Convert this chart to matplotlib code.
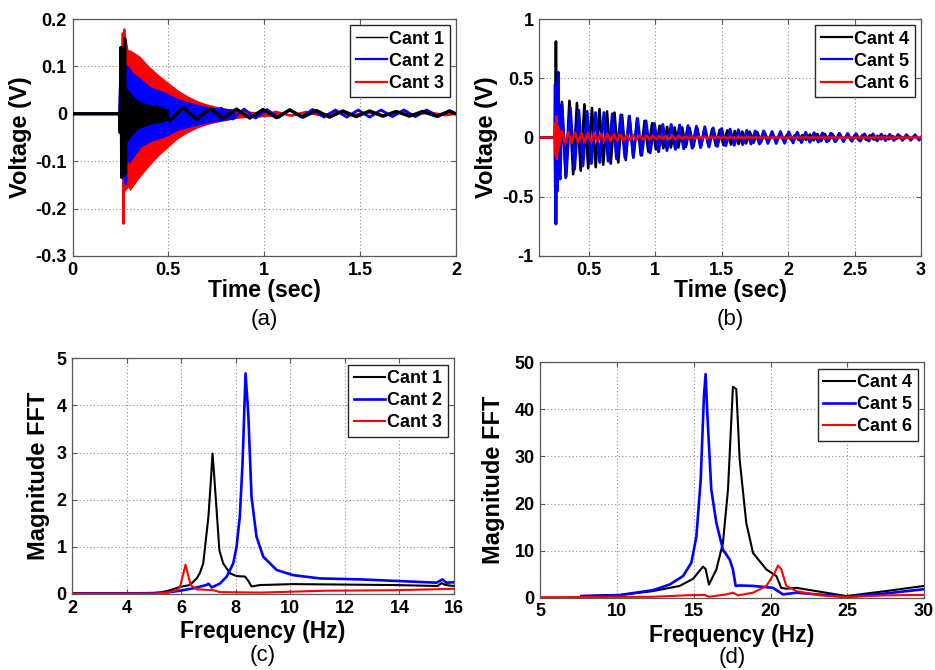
import numpy as np
import matplotlib
matplotlib.use("Agg")
import matplotlib.pyplot as plt

plt.rcParams['font.family'] = ['Liberation Sans', 'DejaVu Sans']

# ======================= DATA =======================
# ---- (a) time response, Cant 1-3 ----
a_labels = ["Cant 1", "Cant 2", "Cant 3"]
a_xticks = [0, 0.5, 1, 1.5, 2]
a_xticklabels = ["0", "0.5", "1", "1.5", "2"]
a_yticks = [-0.3, -0.2, -0.1, 0, 0.1, 0.2]
a_yticklabels = ["-0.3", "-0.2", "-0.1", "0", "0.1", "0.2"]

# Cant 1 (black): lead-in + impact spikes
c1_spike_t = [0.0, 0.245, 0.249, 0.253, 0.257, 0.262, 0.267, 0.272, 0.276, 0.280, 0.285, 0.290, 0.295]
c1_spike_v = [0.0, 0.0, -0.04, 0.14, -0.134, 0.11, -0.06, 0.158, -0.127, 0.05, -0.056, 0.045, -0.05]
# dense band (envelope)
c1_band_t = [0.29, 0.30, 0.34, 0.38, 0.41, 0.46, 0.50]
c1_band_hi = [0.05, 0.045, 0.028, 0.022, 0.018, 0.014, 0.010]
c1_band_lo = [-0.056, -0.05, -0.032, -0.026, -0.021, -0.018, -0.012]
# slow wave peaks (alternating), start time and half-period
c1_wave_t0, c1_wave_hp = 0.30, 0.0694
c1_wave = [0.02, -0.02, 0.016, -0.015, 0.013, -0.012, 0.011, -0.010, 0.010, -0.009,
           0.009, -0.008, 0.008, -0.007, 0.007, -0.007, 0.006, -0.006, 0.006, -0.005,
           0.005, -0.005, 0.005, -0.005, 0.005]

# Cant 2 (blue)
c2_spike_t = [0.0, 0.245, 0.250, 0.255, 0.260, 0.266, 0.272, 0.278, 0.285, 0.295]
c2_spike_v = [0.0, 0.0, 0.07, -0.03, 0.06, -0.08, 0.09, -0.148, 0.10, -0.10]
c2_band_t = [0.25, 0.295, 0.313, 0.357, 0.41, 0.48, 0.55, 0.64, 0.72, 0.81, 0.85]
c2_band_hi = [0.07, 0.10, 0.088, 0.074, 0.056, 0.046, 0.032, 0.021, 0.014, 0.011, 0.010]
c2_band_lo = [-0.05, -0.106, -0.095, -0.07, -0.058, -0.049, -0.035, -0.025, -0.018, -0.013, -0.010]
c2_wave_t0, c2_wave_hp = 0.30, 0.0595
c2_wave = [0.02, -0.02, 0.018, -0.018, 0.016, -0.015, 0.014, -0.013, 0.012, -0.011,
           0.010, -0.009, 0.009, -0.008, 0.009, -0.007, 0.009, -0.007, 0.008, -0.007,
           0.008, -0.007, 0.008, -0.006, 0.008, -0.006, 0.008, -0.006, 0.007]

# Cant 3 (red)
c3_spike_t = [0.0, 0.245, 0.252, 0.258, 0.262, 0.266, 0.270, 0.275]
c3_spike_v = [0.0, 0.0, 0.05, -0.04, 0.17, -0.232, 0.178, -0.15]
c3_band_t = [0.245, 0.26, 0.27, 0.29, 0.30, 0.35, 0.40, 0.45, 0.50, 0.55, 0.60,
             0.65, 0.70, 0.75, 0.80, 0.85, 0.90, 1.00, 1.10]
c3_band_hi = [0.0, 0.12, 0.178, 0.135, 0.135, 0.122, 0.100, 0.082, 0.066, 0.050, 0.038,
              0.028, 0.021, 0.016, 0.012, 0.008, 0.006, 0.004, 0.003]
c3_band_lo = [0.0, -0.12, -0.165, -0.155, -0.162, -0.134, -0.110, -0.088, -0.070, -0.052, -0.040,
              -0.030, -0.023, -0.018, -0.014, -0.010, -0.008, -0.006, -0.004]
c3_wave_t0, c3_wave_hp = 0.90, 0.08
c3_wave = [0.005, -0.005, 0.004, -0.004, 0.004, -0.004, 0.004, -0.003, 0.003, -0.003,
           0.003, -0.003, 0.003, -0.003]

# ---- (b) time response, Cant 4-6 ----
b_labels = ["Cant 4", "Cant 5", "Cant 6"]
b_xticks = [0.5, 1, 1.5, 2, 2.5, 3]
b_xticklabels = ["0.5", "1", "1.5", "2", "2.5", "3"]
b_yticks = [-1, -0.5, 0, 0.5, 1]
b_yticklabels = ["-1", "-0.5", "0", "0.5", "1"]

c4_imp_t = [0.13, 0.246, 0.250, 0.255, 0.259, 0.264, 0.270, 0.277, 0.285]
c4_imp_v = [0.0, 0.0, -0.42, 0.81, -0.05, 0.30, -0.25, 0.28, -0.30]
c4_t0, c4_hp = 0.30, 0.02825
c4_pos = [0.30, 0.31, 0.29, 0.28, 0.25, 0.24, 0.22, 0.21, 0.19, 0.18, 0.16, 0.14,
          0.12, 0.10, 0.09, 0.085, 0.085, 0.08, 0.08, 0.075, 0.07, 0.065, 0.06, 0.055,
          0.05, 0.05, 0.045, 0.04, 0.035, 0.03, 0.025, 0.02, 0.02, 0.025, 0.03, 0.03,
          0.03, 0.028, 0.025, 0.022, 0.02, 0.018, 0.015, 0.015, 0.012, 0.012, 0.01, 0.01]
c4_neg = [-0.34, -0.31, -0.28, -0.26, -0.25, -0.23, -0.22, -0.21, -0.19, -0.17, -0.15, -0.12,
          -0.10, -0.09, -0.085, -0.085, -0.08, -0.08, -0.075, -0.07, -0.07, -0.065, -0.06, -0.055,
          -0.05, -0.045, -0.04, -0.035, -0.03, -0.025, -0.02, -0.02, -0.02, -0.025, -0.03, -0.03,
          -0.03, -0.028, -0.025, -0.022, -0.02, -0.018, -0.015, -0.015, -0.012, -0.012, -0.01, -0.01]

c5_imp_t = [0.13, 0.246, 0.250, 0.255, 0.261, 0.267, 0.273, 0.279, 0.287]
c5_imp_v = [0.0, 0.0, 0.45, -0.73, 0.30, -0.45, 0.55, -0.30, -0.35]
c5_t0, c5_hp = 0.30, 0.0316
c5_pos = [0.28, 0.25, 0.23, 0.22, 0.21, 0.21, 0.20, 0.19, 0.18, 0.16, 0.14, 0.12,
          0.11, 0.11, 0.105, 0.10, 0.095, 0.09, 0.08, 0.075, 0.07, 0.065, 0.06, 0.055,
          0.055, 0.05, 0.05, 0.048, 0.045, 0.043, 0.04, 0.038, 0.036, 0.035, 0.034, 0.032,
          0.03, 0.03, 0.028, 0.026, 0.025, 0.024, 0.023]
c5_neg = [-0.33, -0.27, -0.24, -0.22, -0.21, -0.20, -0.18, -0.17, -0.16, -0.15, -0.13, -0.12,
          -0.11, -0.10, -0.095, -0.09, -0.085, -0.08, -0.075, -0.07, -0.065, -0.06, -0.055, -0.055,
          -0.05, -0.05, -0.048, -0.045, -0.043, -0.04, -0.038, -0.036, -0.035, -0.034, -0.032, -0.03,
          -0.03, -0.028, -0.026, -0.025, -0.024, -0.023, -0.022]

c6_imp_t = [0.13, 0.245, 0.250, 0.254, 0.258, 0.262, 0.266, 0.270, 0.274, 0.278, 0.282, 0.286, 0.290]
c6_imp_v = [0.0, 0.0, 0.12, -0.15, 0.18, -0.18, 0.10, -0.12, 0.08, -0.08, 0.06, -0.05, 0.04]
c6_t0, c6_hp = 0.30, 0.0244
c6_pos = [0.05, 0.045, 0.042, 0.04, 0.038, 0.035, 0.032, 0.03, 0.027, 0.025, 0.022, 0.02,
          0.018, 0.016, 0.015, 0.014, 0.013, 0.012, 0.011, 0.01, 0.009, 0.008, 0.008, 0.007,
          0.006, 0.006, 0.005]
c6_neg = [-0.05, -0.045, -0.042, -0.04, -0.038, -0.035, -0.032, -0.03, -0.027, -0.025, -0.022, -0.02,
          -0.018, -0.016, -0.015, -0.014, -0.013, -0.012, -0.011, -0.01, -0.009, -0.008, -0.008, -0.007,
          -0.006, -0.006, -0.005]
c6_tail_t = [1.62, 3.0]
c6_tail_v = [0.0, 0.0]

# ---- (c) FFT, Cant 1-3 ----
c_xticks = [2, 4, 6, 8, 10, 12, 14, 16]
c_yticks = [0, 1, 2, 3, 4, 5]
f1 = [2, 3, 4, 5, 5.22, 5.59, 5.96, 6.32, 6.57, 6.69, 6.81, 7.0, 7.1, 7.15, 7.2, 7.3, 7.4,
      7.54, 7.79, 8.03, 8.34, 8.46, 8.58, 8.89, 10.1, 12, 13.8, 15.4, 15.54, 15.7, 16]
m1 = [0.02, 0.02, 0.02, 0.02, 0.03, 0.08, 0.15, 0.19, 0.33, 0.45, 0.65, 1.64, 2.5, 2.98, 2.6,
      1.78, 0.93, 0.65, 0.44, 0.38, 0.37, 0.28, 0.16, 0.19, 0.21, 0.20, 0.19, 0.17, 0.23, 0.19, 0.17]
f2 = [2, 3, 4, 5, 5.59, 5.96, 6.44, 6.93, 7.0, 7.12, 7.42, 7.67, 7.91, 8.03, 8.15, 8.25, 8.36,
      8.46, 8.58, 8.76, 9.01, 9.5, 10.1, 11.1, 12.55, 13.77, 15.36, 15.58, 15.72, 16]
m2 = [0.01, 0.01, 0.01, 0.02, 0.04, 0.07, 0.12, 0.19, 0.22, 0.14, 0.22, 0.37, 0.65, 1.0, 1.64,
      2.77, 4.68, 3.83, 2.06, 1.22, 0.79, 0.51, 0.40, 0.33, 0.31, 0.28, 0.24, 0.31, 0.24, 0.25]
f3 = [2, 3, 4, 5, 5.5, 5.83, 5.96, 6.16, 6.35, 6.57, 7.18, 7.42, 8.89, 11.33, 13.77, 16]
m3 = [0.01, 0.01, 0.01, 0.01, 0.03, 0.08, 0.15, 0.62, 0.19, 0.10, 0.08, 0.04, 0.03, 0.07, 0.08, 0.11]

# ---- (d) FFT, Cant 4-6 ----
d_xticks = [5, 10, 15, 20, 25, 30]
d_yticks = [0, 10, 20, 30, 40, 50]
f4 = [7.67, 10.17, 12.34, 14.08, 14.95, 15.6, 15.77, 15.99, 16.47, 16.9, 17.23, 17.55, 17.77,
      17.99, 18.42, 18.86, 19.73, 20.38, 20.7, 21.03, 21.68, 24.94, 27.5, 30]
m4 = [0.35, 0.56, 1.4, 2.5, 4.0, 6.6, 6.1, 2.8, 6.0, 11.6, 23, 44.8, 44.3, 29.3, 15.9, 9.5,
      6.0, 4.6, 2.1, 1.9, 2.1, 0.35, 1.4, 2.5]
f5 = [7.67, 10.17, 12.34, 13.43, 14.3, 14.84, 15.17, 15.45, 15.66, 15.77, 15.88, 16.14, 16.47,
      16.9, 17.34, 17.55, 17.73, 17.99, 18.86, 20.16, 20.81, 21.68, 24.94, 27.5, 30]
m5 = [0.35, 0.56, 1.6, 2.8, 4.6, 7.4, 13, 25, 42.7, 47.5, 39.2, 23, 15.9, 10.2, 8.1, 6.0, 2.5,
      2.6, 2.5, 2.1, 0.7, 1.06, 0.2, 0.9, 1.8]
f6 = [5, 12.34, 14.5, 15.7, 16.0, 17.12, 17.55, 17.88, 18.86, 19.73, 20.27, 20.49, 20.7, 21.03,
      21.68, 23.2, 24.94, 27.5, 30]
m6 = [0.1, 0.2, 0.5, 0.6, 0.2, 0.7, 1.06, 0.5, 1.06, 2.5, 5.3, 6.85, 6.0, 2.5, 1.4, 0.5, 0.14,
      0.5, 0.6]

# ======================= HELPERS =======================
def wave(t0, hp, peaks):
    t = t0 + hp * np.arange(len(peaks))
    return t, np.asarray(peaks, float)

def interleave(pos, neg):
    out = np.empty(len(pos) + len(neg))
    out[0::2] = pos
    out[1::2] = neg
    return out

BLACK, BLUE, RED = '#000000', '#0000ff', '#ff0000'
W, H = 935, 670

def style(ax):
    ax.grid(True, color='0.55', linestyle=(0, (1, 2.2)), linewidth=0.8)
    ax.set_axisbelow(True)
    for s in ax.spines.values():
        s.set_color('0.35')
        s.set_linewidth(0.9)
    ax.tick_params(direction='in', length=3.5, width=0.8, color='0.35',
                   top=True, right=True, labelsize=13, pad=4)
    for lab in ax.get_xticklabels() + ax.get_yticklabels():
        lab.set_fontweight('bold')

def legend(ax):
    leg = ax.legend(loc='upper right', prop={'weight': 'bold', 'size': 13},
                    handlelength=1.75, handletextpad=0.12, labelspacing=0.28,
                    borderpad=0.3, borderaxespad=0.35, fancybox=False,
                    framealpha=1, edgecolor='0.15')
    leg.get_frame().set_linewidth(1.0)

def px_axes(fig, left, top, right, bottom):
    return fig.add_axes([left / W, 1 - bottom / H, (right - left) / W, (bottom - top) / H])

fig = plt.figure(figsize=(W / 100, H / 100), dpi=100)

# ---------------- (a) ----------------
ax = px_axes(fig, 72.5, 19, 456, 256)
ax.fill_between(c3_band_t, c3_band_lo, c3_band_hi, color=RED, lw=0, zorder=2)
ax.fill_between(c2_band_t, c2_band_lo, c2_band_hi, color=BLUE, lw=0, zorder=3)
ax.fill_between(c1_band_t, c1_band_lo, c1_band_hi, color=BLACK, lw=0, zorder=4)
t3w, v3w = wave(c3_wave_t0, c3_wave_hp, c3_wave)
ax.plot(c3_spike_t, c3_spike_v, color=RED, lw=1.6, zorder=2.5)
ax.plot(np.r_[t3w, 2.0], np.r_[v3w, 0.0], color=RED, lw=1.8, zorder=2.5)
t2w, v2w = wave(c2_wave_t0, c2_wave_hp, c2_wave)
ax.plot(np.r_[c2_spike_t, t2w, 2.0], np.r_[c2_spike_v, v2w, 0.0], color=BLUE, lw=2.0, zorder=3.5)
t1w, v1w = wave(c1_wave_t0, c1_wave_hp, c1_wave)
ax.plot(np.r_[c1_spike_t, t1w, 2.0], np.r_[c1_spike_v, v1w, 0.0], color=BLACK, lw=2.4, zorder=4.5)
ax.plot([], [], color=BLACK, lw=1.0, label=a_labels[0])
ax.plot([], [], color=BLUE, lw=1.6, label=a_labels[1])
ax.plot([], [], color=RED, lw=1.6, label=a_labels[2])
ax.set_xlim(0, 2)
ax.set_ylim(-0.3, 0.2)
ax.set_xticks(a_xticks, a_xticklabels)
ax.set_yticks(a_yticks, a_yticklabels)
style(ax)
legend(ax)
ax.set_xlabel("Time (sec)", fontsize=16.5, fontweight='bold')
ax.xaxis.set_label_coords(0.5, -0.095)
ax.set_ylabel("Voltage (V)", fontsize=17, fontweight='bold')
ax.yaxis.set_label_coords(-0.106, 0.5)
ax.text(0.5, -(320 - 256) / 237, "(a)", transform=ax.transAxes, ha='center', va='center', fontsize=16)

# ---------------- (b) ----------------
ax = px_axes(fig, 539.3, 19, 921, 256)
t4, v4 = wave(c4_t0, c4_hp, interleave(c4_pos, c4_neg))
ax.plot(np.r_[c4_imp_t, t4, 3.0], np.r_[c4_imp_v, v4, 0.0], color=BLACK, lw=1.9, label=b_labels[0])
t5, v5 = wave(c5_t0, c5_hp, interleave(c5_pos, c5_neg))
ax.plot(np.r_[c5_imp_t, t5, 3.0], np.r_[c5_imp_v, v5, 0.0], color=BLUE, lw=2.1, label=b_labels[1])
t6, v6 = wave(c6_t0, c6_hp, interleave(c6_pos, c6_neg))
ax.plot(np.r_[c6_imp_t, t6, c6_tail_t], np.r_[c6_imp_v, v6, c6_tail_v], color=RED, lw=1.8, label=b_labels[2])
ax.set_xlim(0.13, 3)
ax.set_ylim(-1, 1)
ax.set_xticks(b_xticks, b_xticklabels)
ax.set_yticks(b_yticks, b_yticklabels)
style(ax)
legend(ax)
for ln in ax.get_legend().get_lines():
    ln.set_linewidth(1.6)
ax.set_xlabel("Time (sec)", fontsize=16.5, fontweight='bold')
ax.xaxis.set_label_coords(0.5, -0.095)
ax.set_ylabel("Voltage (V)", fontsize=17, fontweight='bold')
ax.yaxis.set_label_coords(-0.107, 0.5)
ax.text(0.5, -(320 - 256) / 237, "(b)", transform=ax.transAxes, ha='center', va='center', fontsize=16)

# ---------------- (c) ----------------
ax = px_axes(fig, 72, 358.3, 454, 594)
ax.plot(f1, m1, color=BLACK, lw=1.5, label="Cant 1")
ax.plot(f2, m2, color=BLUE, lw=1.9, label="Cant 2")
ax.plot(f3, m3, color=RED, lw=1.5, label="Cant 3")
ax.set_xlim(2, 16)
ax.set_ylim(0, 5)
ax.set_xticks(c_xticks, [str(v) for v in c_xticks])
ax.set_yticks(c_yticks, [str(v) for v in c_yticks])
style(ax)
legend(ax)
ax.set_xlabel("Frequency (Hz)", fontsize=16.5, fontweight='bold')
ax.xaxis.set_label_coords(0.5, -0.11)
ax.set_ylabel("Magnitude FFT", fontsize=17, fontweight='bold')
ax.yaxis.set_label_coords(-0.058, 0.5)
ax.text(0.5, -(656 - 594) / 235.7, "(c)", transform=ax.transAxes, ha='center', va='center', fontsize=16)

# ---------------- (d) ----------------
ax = px_axes(fig, 540.3, 362.3, 924, 597.7)
ax.plot(f4, m4, color=BLACK, lw=1.5, label="Cant 4")
ax.plot(f5, m5, color=BLUE, lw=1.9, label="Cant 5")
ax.plot(f6, m6, color=RED, lw=1.5, label="Cant 6")
ax.set_xlim(5, 30)
ax.set_ylim(0, 50)
ax.set_xticks(d_xticks, [str(v) for v in d_xticks])
ax.set_yticks(d_yticks, [str(v) for v in d_yticks])
style(ax)
legend(ax)
ax.set_xlabel("Frequency (Hz)", fontsize=16.5, fontweight='bold')
ax.xaxis.set_label_coords(0.5, -0.11)
ax.set_ylabel("Magnitude FFT", fontsize=17, fontweight='bold')
ax.yaxis.set_label_coords(-0.091, 0.5)
ax.text(0.5, -(658 - 597.7) / 235.4, "(d)", transform=ax.transAxes, ha='center', va='center', fontsize=16)

fig.savefig("out.png", dpi=100)
